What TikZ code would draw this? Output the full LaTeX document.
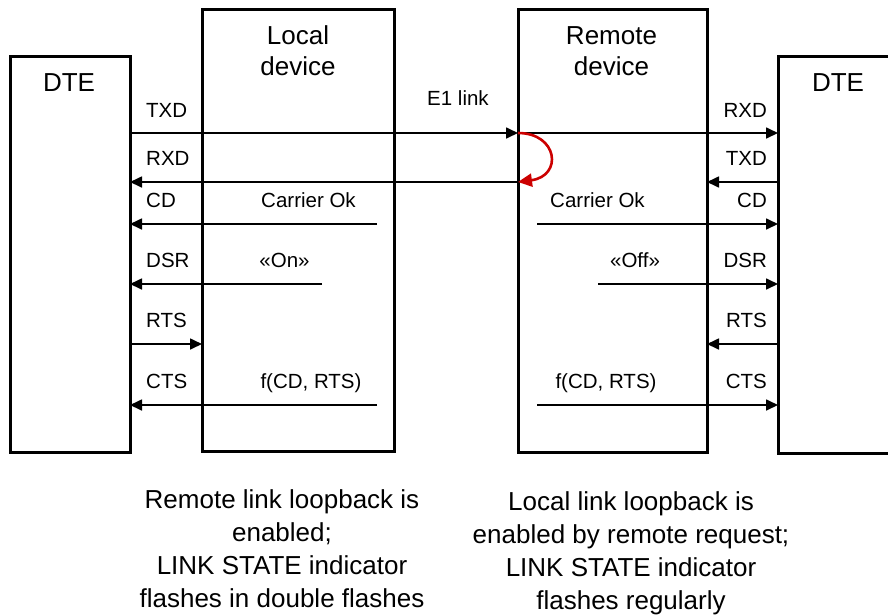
\documentclass[tikz,border=0pt]{standalone}
\usepackage{fontspec}
\setmainfont{Liberation Sans}
\usetikzlibrary{arrows.meta}
\definecolor{loopred}{RGB}{204,0,0}
\begin{document}
\begin{tikzpicture}[x=1pt,y=-1pt,
  box/.style={draw, line width=3pt, outer sep=0pt, inner sep=0pt, rectangle},
  sig/.style={line width=1.7pt, -{Triangle[length=12pt,width=11pt]}},
  loopback/.style={draw=loopred, line width=2.6pt, -{Triangle[length=14pt,width=13pt]}},
  lbl/.style={font=\fontsize{20.5}{24}\selectfont, inner sep=0pt},
  title/.style={font=\fontsize{26}{30}\selectfont, inner sep=0pt, align=center},
  note/.style={font=\fontsize{26}{33}\selectfont, inner sep=0pt, align=center},
]
\useasboundingbox (0,0) rectangle (888,614);

% equipment blocks
\node[box, minimum width=120pt, minimum height=396pt] (dteL) at (70,254) {};
\node[box, minimum width=192pt, minimum height=442pt] (loc)  at (298,230) {};
\node[box, minimum width=189pt, minimum height=443pt] (rem)  at (612.5,230.5) {};
\node[box, minimum width=120pt, minimum height=397pt] (dteR) at (838,254.5) {};

% block titles
\node[title, anchor=base] (tDteL) at (69,91) {DTE};
\node[title, anchor=base] (tDteR) at (838,91) {DTE};
\node[title, anchor=base] (tLoc1) at (298,44) {Local};
\node[title, anchor=base] (tLoc2) at (298,75) {device};
\node[title, anchor=base] (tRem1) at (611.5,44) {Remote};
\node[title, anchor=base] (tRem2) at (611.5,75) {device};

% signal levels
\coordinate (yTX)  at (0,133);
\coordinate (yRX)  at (0,182);
\coordinate (yRTS) at (0,344);

% free ends of the status lines
\coordinate (cdL)  at (377,224);
\coordinate (dsrL) at (322,284);
\coordinate (ctsL) at (377,405);
\coordinate (cdR)  at (537,224);
\coordinate (dsrR) at (598,284);
\coordinate (ctsR) at (537,405);

% data lines
\draw[sig] (dteL.east |- yTX) -- (rem.west |- yTX);
\draw[sig] (rem.west |- yTX) -- (dteR.west |- yTX);
\draw[sig] (rem.west |- yRX) -- (dteL.east |- yRX);
\draw[sig] (dteR.west |- yRX) -- (rem.east |- yRX);

% status lines, local side
\draw[sig] (cdL) -- (dteL.east |- cdL);
\draw[sig] (dsrL) -- (dteL.east |- dsrL);
\draw[sig] (dteL.east |- yRTS) -- (loc.west |- yRTS);
\draw[sig] (ctsL) -- (dteL.east |- ctsL);

% status lines, remote side
\draw[sig] (cdR) -- (dteR.west |- cdR);
\draw[sig] (dsrR) -- (dteR.west |- dsrR);
\draw[sig] (dteR.west |- yRTS) -- (rem.east |- yRTS);
\draw[sig] (ctsR) -- (dteR.west |- ctsR);

% loopback in the remote device
\draw[loopback] (rem.west |- yTX) .. controls (558,133) and (563,176) .. (rem.west |- yRX);

% interface labels, local DTE
\node[lbl, anchor=base west] (lTXD) at (146,117) {TXD};
\node[lbl, anchor=base west] (lRXD) at (146,165) {RXD};
\node[lbl, anchor=base west] (lCD)  at (146,207) {CD};
\node[lbl, anchor=base west] (lDSR) at (146,267) {DSR};
\node[lbl, anchor=base west] (lRTS) at (146,327) {RTS};
\node[lbl, anchor=base west] (lCTS) at (146,388) {CTS};

% interface labels, remote DTE
\node[lbl, anchor=base east] (rRXD) at (767,117) {RXD};
\node[lbl, anchor=base east] (rTXD) at (767,165) {TXD};
\node[lbl, anchor=base east] (rCD)  at (767,207) {CD};
\node[lbl, anchor=base east] (rDSR) at (767,267) {DSR};
\node[lbl, anchor=base east] (rRTS) at (767,327) {RTS};
\node[lbl, anchor=base east] (rCTS) at (767,388) {CTS};

% signal states
\node[lbl, anchor=base] (e1)    at (458,105) {E1 link};
\node[lbl, anchor=base] (sCdL)  at (308.5,207) {Carrier Ok};
\node[lbl, anchor=base] (sDsrL) at (284.5,267) {«On»};
\node[lbl, anchor=base] (sCtsL) at (311,388) {f(CD, RTS)};
\node[lbl, anchor=base] (sCdR)  at (597.5,207) {Carrier Ok};
\node[lbl, anchor=base] (sDsrR) at (635,267) {«Off»};
\node[lbl, anchor=base] (sCtsR) at (606,388) {f(CD, RTS)};

% notes (base anchor sits on the last line)
\node[note, anchor=base] (noteL) at (282,607) {Remote link loopback is\\enabled;\\LINK STATE indicator\\flashes in double flashes};
\node[note, anchor=base] (noteR) at (631,609) {Local link loopback is\\enabled by remote request;\\LINK STATE indicator\\flashes regularly};
\end{tikzpicture}
\end{document}
